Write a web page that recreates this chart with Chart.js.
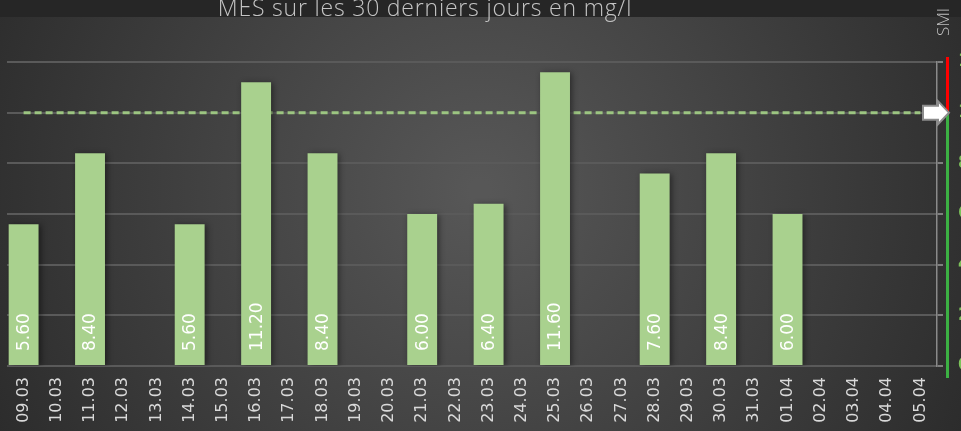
<!DOCTYPE html>
<html>
<head>
<meta charset="utf-8">
<script src="https://cdn.jsdelivr.net/npm/chart.js@4.4.0/dist/chart.umd.min.js"></script>
<style>
  html, body { margin: 0; padding: 0; overflow: hidden; background: #2b2b2b; }
  #wrap { position: relative; width: 975px; height: 431px; }
</style>
</head>
<body>
<div id="wrap"><canvas id="mes-chart" width="975" height="431"></canvas></div>
<script>
// Days shown on the x axis
const jours = ['09.03', '10.03', '11.03', '12.03', '13.03', '14.03', '15.03', '16.03', '17.03', '18.03',
  '19.03', '20.03', '21.03', '22.03', '23.03', '24.03', '25.03', '26.03', '27.03', '28.03',
  '29.03', '30.03', '31.03', '01.04', '02.04', '03.04', '04.04', '05.04'];

// MES measurements in mg/l (null = no sample that day)
const mesValeurs = [5.6, null, 8.4, null, null, 5.6, null, 11.2, null, 8.4,
  null, null, 6.0, null, 6.4, null, 11.6, null, null, 7.6,
  null, 8.4, null, 6.0, null, null, null, null];

// Limit value (dashed line)
const seuil = [10, 10, 10, 10, 10, 10, 10, 10, 10, 10,
  10, 10, 10, 10, 10, 10, 10, 10, 10, 10,
  10, 10, 10, 10, 10, 10, 10, 10];

const yTicks = [0, 2, 4, 6, 8, 10, 12];
const titre = 'MES sur les 30 derniers jours en mg/l';

const vert = '#a9d18e';

const decor = {
  id: 'decor',
  beforeDraw(chart) {
    const ctx = chart.ctx;
    ctx.save();
    const g = ctx.createRadialGradient(480, 190, 10, 480, 190, 600);
    g.addColorStop(0, '#575757');
    g.addColorStop(1, '#272727');
    ctx.fillStyle = g;
    ctx.fillRect(0, 0, chart.width, chart.height);
    // title band
    ctx.fillStyle = '#262626';
    ctx.fillRect(0, 0, chart.width, 17);
    ctx.fillStyle = '#c4c4c4';
    ctx.font = '300 23px "Open Sans"';
    ctx.letterSpacing = '0.8px';
    ctx.textAlign = 'center';
    ctx.textBaseline = 'alphabetic';
    ctx.fillText(titre, 425, 16);
    ctx.restore();
  },
  beforeDatasetDraw(chart, args) {
    if (args.index !== 0) return;
    const ctx = chart.ctx;
    ctx.save();
    ctx.shadowColor = 'rgba(0,0,0,0.45)';
    ctx.shadowBlur = 6;
    ctx.shadowOffsetX = 2;
    ctx.shadowOffsetY = 1;
  },
  afterDatasetDraw(chart, args) {
    if (args.index !== 0) return;
    chart.ctx.restore();
  },
  afterDatasetsDraw(chart) {
    const ctx = chart.ctx;
    const y = chart.scales.y;
    const right = chart.chartArea.right;

    // value labels inside the bars
    const meta = chart.getDatasetMeta(0);
    meta.data.forEach((bar, i) => {
      const v = mesValeurs[i];
      if (v == null) return;
      ctx.save();
      ctx.translate(bar.x + 1, bar.base - 14);
      ctx.rotate(-Math.PI / 2);
      ctx.fillStyle = '#ffffff';
      ctx.font = '17px "DejaVu Sans"';
      ctx.textAlign = 'left';
      ctx.textBaseline = 'middle';
      ctx.fillText(v.toFixed(2), 0, 0);
      ctx.restore();
    });

    // red / green band on the right axis
    const y10 = y.getPixelForValue(10);
    ctx.save();
    ctx.fillStyle = '#ff0000';
    ctx.fillRect(right + 9, y.getPixelForValue(12) - 5, 3, y10 - y.getPixelForValue(12) + 5);
    ctx.fillStyle = '#3cb043';
    ctx.fillRect(right + 9, y10, 3, y.getPixelForValue(0) + 12 - y10);

    // arrow pointing at the limit
    ctx.beginPath();
    ctx.moveTo(right - 14, y10 - 7);
    ctx.lineTo(right + 1, y10 - 7);
    ctx.lineTo(right + 1, y10 - 11.5);
    ctx.lineTo(right + 12, y10);
    ctx.lineTo(right + 1, y10 + 11.5);
    ctx.lineTo(right + 1, y10 + 7);
    ctx.lineTo(right - 14, y10 + 7);
    ctx.closePath();
    ctx.fillStyle = '#ffffff';
    ctx.fill();
    ctx.strokeStyle = '#8c8c8c';
    ctx.lineWidth = 2;
    ctx.stroke();

    // SMI label
    ctx.translate(944, 22);
    ctx.rotate(-Math.PI / 2);
    ctx.fillStyle = '#bfbfbf';
    ctx.font = '300 17px "Open Sans"';
    ctx.textAlign = 'center';
    ctx.textBaseline = 'middle';
    ctx.fillText('SMI', 0, 0);
    ctx.restore();
  }
};

const ctx = document.getElementById('mes-chart').getContext('2d');
const mesChart = new Chart(ctx, {
  type: 'bar',
  data: {
    labels: jours,
    datasets: [{
      type: 'bar',
      label: 'MES',
      data: mesValeurs,
      backgroundColor: vert,
      borderWidth: 0,
      barPercentage: 0.9,
      categoryPercentage: 1,
      order: 0
    }, {
      type: 'line',
      label: 'Seuil',
      data: seuil,
      borderColor: '#9cc581',
      borderWidth: 3,
      borderDash: [7, 4],
      pointRadius: 0,
      fill: false,
      order: 1
    }]
  },
  options: {
    responsive: false,
    animation: false,
    events: [],
    layout: { padding: { left: 7, top: 62, right: 0, bottom: 0 } },
    plugins: {
      legend: { display: false },
      tooltip: { enabled: false },
      title: { display: false }
    },
    scales: {
      x: {
        grid: { display: false, drawTicks: false },
        border: { display: false },
        afterFit: s => { s.height = 65; },
        ticks: {
          color: '#d9d9d9',
          minRotation: 90,
          maxRotation: 90,
          autoSkip: false,
          padding: 11,
          font: { family: 'DejaVu Sans', size: 16 }
        }
      },
      y: {
        position: 'right',
        min: 0,
        max: 12,
        afterBuildTicks: s => { s.ticks = yTicks.map(v => ({ value: v })); },
        afterFit: s => { s.width = 38; },
        grid: { color: '#5a5a5a', lineWidth: 2, tickLength: 6, tickColor: '#7f7f7f' },
        border: { display: true, color: '#8a8a8a', width: 1.5 },
        ticks: {
          color: '#7cc25a',
          padding: 15,
          font: { family: 'DejaVu Sans', size: 17, weight: 'bold' }
        }
      }
    }
  },
  plugins: [decor]
});
</script>
</body>
</html>
